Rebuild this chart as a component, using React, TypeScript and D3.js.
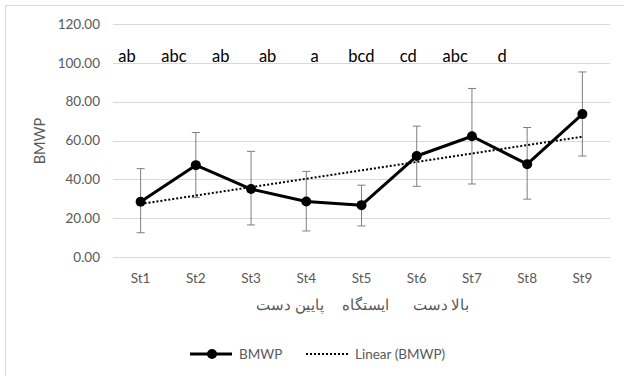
import React from "react";
import * as d3 from "d3";

// station data
const stations = ["St1", "St2", "St3", "St4", "St5", "St6", "St7", "St8", "St9"];
const bmwp = [28.5, 47.3, 35.0, 28.6, 26.7, 52.0, 62.2, 47.8, 73.6];
const errHigh = [45.5, 64.1, 54.4, 44.1, 37.0, 67.4, 86.8, 66.7, 95.3];
const errLow = [12.5, 30.6, 16.5, 13.4, 16.0, 36.4, 37.6, 29.8, 52.0];
const groups = ["ab", "abc", "ab", "ab", "a", "bcd", "cd", "abc", "d"];
const yTicks = [0, 20, 40, 60, 80, 100, 120];
const axisWords = ["پایین دست", "ایستگاه", "بالا دست"];

const W = 624;
const H = 376;
const FONT = "Lato, 'Open Sans', sans-serif";
const GRAY = "#595959";

function App() {
  const x = d3.scaleBand().domain(stations).range([113, 610]);
  const y = d3.scaleLinear().domain([0, 120]).range([257, 24]);
  const cx = (s: string) => (x(s) as number) + x.bandwidth() / 2;

  // linear trend (least squares) over station index
  const idx = bmwp.map((_, i) => i + 1);
  const mx = d3.mean(idx) as number;
  const my = d3.mean(bmwp) as number;
  const slope =
    d3.sum(idx, (v, i) => (v - mx) * (bmwp[i] - my)) /
    d3.sum(idx, (v) => (v - mx) ** 2);
  const trend = (i: number) => my + slope * (i - mx);

  const lineGen = d3
    .line<number>()
    .x((_, i) => cx(stations[i]))
    .y((d) => y(d));

  // annotation letters sit on their own loose spacing
  const letterX = d3.scalePoint().domain(stations).range([127, 502]);
  const wordX = d3.scalePoint().domain(axisWords).range([290, 441]);

  return (
    <svg
      width={W}
      height={H}
      style={{ position: "fixed", left: 0, top: 0, background: "#fff" }}
      fontFamily={FONT}
    >
      <rect x={5.5} y={5.5} width={700} height={500} fill="#fff" stroke="#d9d9d9" />

      {yTicks.map((t) => (
        <g key={t}>
          <line x1={113} x2={610} y1={Math.round(y(t)) + 0.5} y2={Math.round(y(t)) + 0.5} stroke="#d9d9d9" />
          <text x={100} y={y(t)} dy="0.35em" textAnchor="end" fontSize={13.5} fill={GRAY}>
            {t.toFixed(2)}
          </text>
        </g>
      ))}

      <text
        transform={`translate(40,141) rotate(-90)`}
        textAnchor="middle"
        dy="0.35em"
        fontSize={14.5}
        fill={GRAY}
      >
        BMWP
      </text>

      {stations.map((s) => (
        <text key={s} x={cx(s)} y={278} dy="0.35em" textAnchor="middle" fontSize={13.5} fill={GRAY}>
          {s}
        </text>
      ))}

      {axisWords.map((w) => (
        <text key={w} x={wordX(w)} y={305} dy="0.35em" textAnchor="middle" fontSize={15} fill={GRAY} direction="rtl">
          {w}
        </text>
      ))}

      {groups.map((g, i) => (
        <text key={i} x={letterX(stations[i])} y={56} dy="0.35em" textAnchor="middle" fontSize={16.5} fill="#000">
          {g}
        </text>
      ))}

      {/* error bars */}
      {stations.map((s, i) => (
        <g key={s} stroke="#7f7f7f" strokeWidth={1}>
          <line x1={cx(s)} x2={cx(s)} y1={y(errLow[i])} y2={y(errHigh[i])} />
          <line x1={cx(s) - 4} x2={cx(s) + 4} y1={y(errHigh[i])} y2={y(errHigh[i])} />
          <line x1={cx(s) - 4} x2={cx(s) + 4} y1={y(errLow[i])} y2={y(errLow[i])} />
        </g>
      ))}

      {/* trend line */}
      <line
        x1={cx(stations[0])}
        x2={cx(stations[stations.length - 1])}
        y1={y(trend(1))}
        y2={y(trend(stations.length))}
        stroke="#000"
        strokeWidth={2}
        strokeDasharray="2 2"
      />

      <path d={lineGen(bmwp) || ""} fill="none" stroke="#000" strokeWidth={3} strokeLinejoin="round" />
      {bmwp.map((v, i) => (
        <circle key={i} cx={cx(stations[i])} cy={y(v)} r={5} fill="#000" />
      ))}

      {/* legend */}
      <line x1={190} x2={232} y1={354} y2={354} stroke="#000" strokeWidth={3} />
      <circle cx={212} cy={354} r={5} fill="#000" />
      <text x={239} y={354} dy="0.35em" fontSize={13.5} fill={GRAY}>
        BMWP
      </text>
      <line x1={306} x2={348} y1={354} y2={354} stroke="#000" strokeWidth={2} strokeDasharray="2 2" />
      <text x={355} y={354} dy="0.35em" fontSize={13.5} fill={GRAY}>
        Linear (BMWP)
      </text>
    </svg>
  );
}

export default App;
